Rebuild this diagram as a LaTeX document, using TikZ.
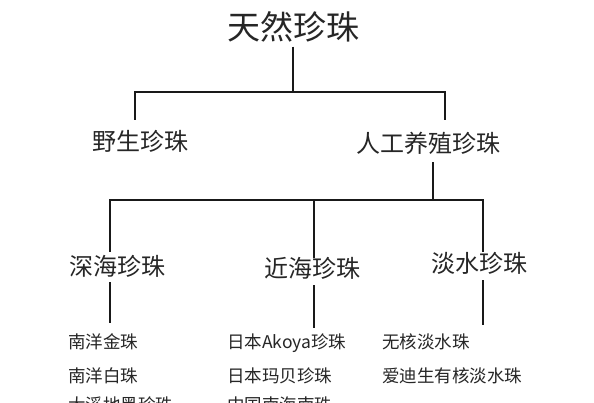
\documentclass[tikz,border=0pt]{standalone}
\usepackage{fontspec}
\setmainfont{Noto Sans CJK SC}
\usetikzlibrary{positioning}

\begin{document}
\begin{tikzpicture}[x=1pt, y=-1pt,
  every node/.style={inner sep=0pt, text=black!85},
  rootbox/.style={font=\fontsize{33}{40}\selectfont, text height=26.4pt, text depth=6.6pt},
  midbox/.style={font=\fontsize{24}{29}\selectfont, text height=19.2pt, text depth=4.8pt},
  leafbox/.style={font=\fontsize{17.5}{21}\selectfont, text height=14pt, text depth=3.5pt, anchor=west},
  branch/.style={line width=1.6pt, black!90}]
\def\ca{68}    % left edge of the deep-sea leaves
\def\cb{227}   % left edge of the coastal leaves
\def\cc{382}   % left edge of the freshwater leaves
\useasboundingbox[fill=white] (0,0) rectangle (594,403);

% ================= levels 1 and 2 =================
\node[rootbox] (root) at (293,30) {天然珍珠};
\node[midbox] (wild) at (140,143) {野生珍珠};
\node[midbox] (farm) at (428,145) {人工养殖珍珠};

\coordinate (b1l) at (135,92);
\coordinate (b1r) at (445,92);
\draw[branch] (root.south) -- (root.south |- b1l);
\draw[branch, shorten <=11pt, shorten >=13pt] (wild.north -| b1l) -- (b1l) -- (b1r) -- (farm.north -| b1r);

% ================= level 3: where the pearls grow =================
\node[midbox] (deep) at (117,268) {深海珍珠};
\node[midbox] (near) at (312,270) {近海珍珠};
\node[midbox] (fresh) at (479,265) {淡水珍珠};

\coordinate (b2) at (433,200);
\coordinate (b2l) at (110,200);
\coordinate (b2m) at (314,200);
\coordinate (b2r) at (483,200);
\draw[branch, shorten <=5pt] (farm.south -| b2) -- (b2);
\draw[branch, shorten <=4pt, shorten >=1pt] (deep.north -| b2l) -- (b2l) -- (b2r) -- (fresh.north -| b2r);
\draw[branch] (b2m) -- (near.north -| b2m);

% ================= leaves =================
% ---------- deep sea ----------
\node[leafbox] (gold) at (\ca,343) {南洋金珠};
\node[leafbox] (white) at (\ca,377) {南洋白珠};
\node[leafbox] (tahiti) at (\ca,406) {大溪地黑珍珠};
\draw[branch, shorten <=2pt, shorten >=11pt] (deep.south -| b2l) -- (gold.north -| b2l);

% ---------- coastal ----------
\node[leafbox] (akoya) at (\cb,343) {日本Akoya珍珠};
\node[leafbox] (mabe) at (\cb,377) {日本玛贝珍珠};
\node[leafbox] (nanzhu) at (\cb,406) {中国南海南珠};
\draw[branch, shorten <=3pt, shorten >=6pt] (near.south -| b2m) -- (akoya.north -| b2m);

% ---------- freshwater ----------
\node[leafbox] (nonuc) at (\cc,343) {无核淡水珠};
\node[leafbox] (edison) at (\cc,377) {爱迪生有核淡水珠};
\draw[branch, shorten <=3pt, shorten >=9pt] (fresh.south -| b2r) -- (nonuc.north -| b2r);

\end{tikzpicture}
\end{document}
